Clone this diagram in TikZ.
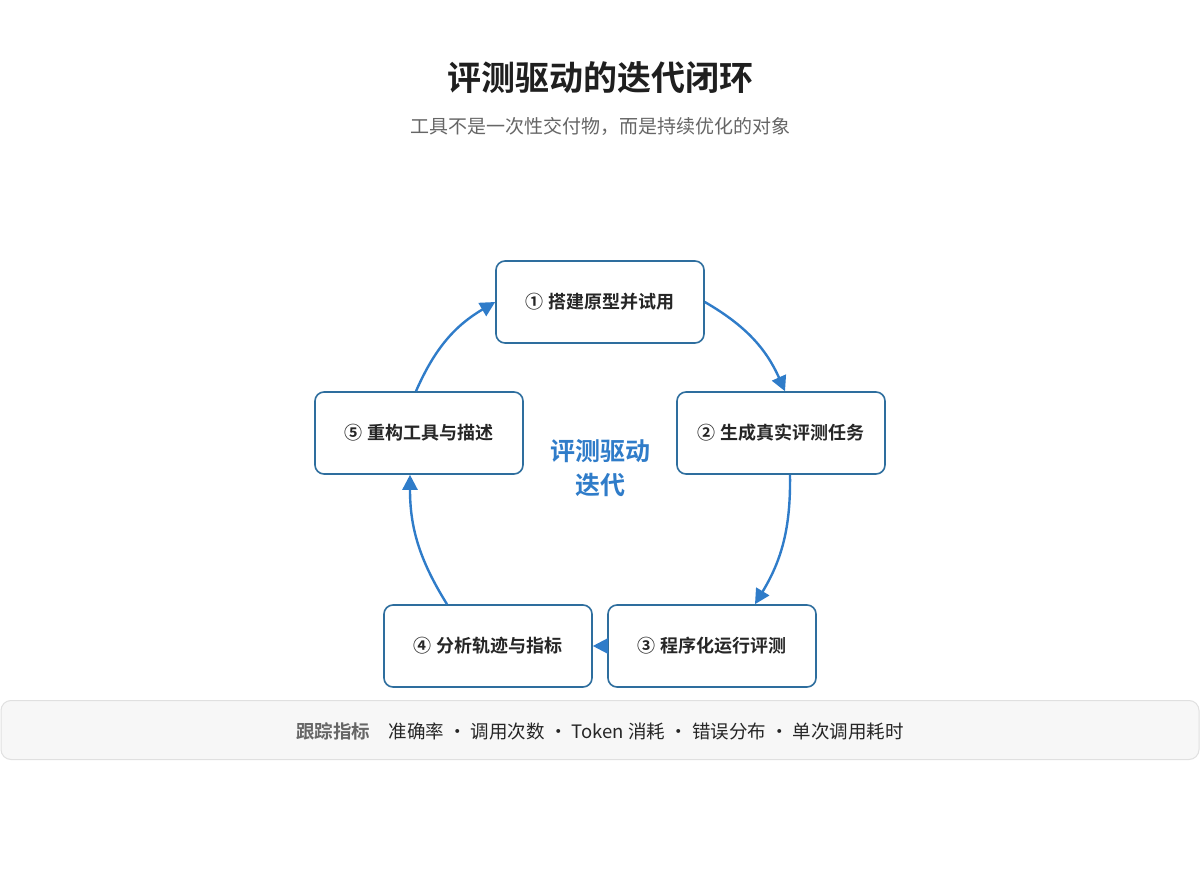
\documentclass[tikz,border=0pt]{standalone}
\usepackage{fontspec}
\setmainfont{Noto Sans CJK SC}
\newfontfamily\cjkb{Noto Sans CJK SC Bold}
\usetikzlibrary{arrows.meta}
\definecolor{blu}{HTML}{2F7CC9}
\definecolor{bord}{HTML}{2E6E9E}
\begin{document}
\begin{tikzpicture}[x=1pt,y=-1pt,
  box/.style={draw=bord,line width=1.6pt,rounded corners=9pt,fill=white,minimum width=208pt,minimum height=82pt,font=\cjkb\fontsize{18}{21}\selectfont,text=black!85},
  arr/.style={draw=blu,line width=2.4pt,-{Triangle[length=15pt,width=15pt]}}]
\useasboundingbox (0,0) rectangle (1200,880);
\fill[white] (0,0) rectangle (1200,880);
\node[font=\cjkb\fontsize{34}{38}\selectfont,text=black!88] (title) at (600,78) {评测驱动的迭代闭环};
\node[font=\fontsize{19}{22}\selectfont,text=black!60] (sub) at (600,126) {工具不是一次性交付物，而是持续优化的对象};
\node[box] (n1) at (600,302) {① 搭建原型并试用};
\node[box] (n2) at (781,433) {② 生成真实评测任务};
\node[box] (n3) at (712,646) {③ 程序化运行评测};
\node[box] (n4) at (488,646) {④ 分析轨迹与指标};
\node[box] (n5) at (419,433) {⑤ 重构工具与描述};
\node[font=\cjkb\fontsize{25}{34}\selectfont,text=blu,align=center] (c) at (600,468) {评测驱动\\迭代};
\draw[arr] (n1.east) to[bend left=18] (n2.north -| 785,0);
\draw[arr] (n2.south -| 790,0) to[bend left=16] (n3.north -| 755,0);
\draw[arr] (n3.west) -- (n4.east);
\draw[arr] (n4.north -| 447,0) to[bend left=16] (n5.south -| 410,0);
\draw[arr] (n5.north -| 416,0) to[bend left=18] (n1.west);
\node[draw=black!12,fill=black!3,rounded corners=10pt,minimum width=1198pt,minimum height=59pt,line width=1pt] (bar) at (600,730) {};
\node[font=\fontsize{18.5}{21}\selectfont,text=black!85] (metrics) at (600,731) {{\cjkb\color{black!60}跟踪指标}\quad 准确率 · 调用次数 · Token 消耗 · 错误分布 · 单次调用耗时};
\end{tikzpicture}
\end{document}
